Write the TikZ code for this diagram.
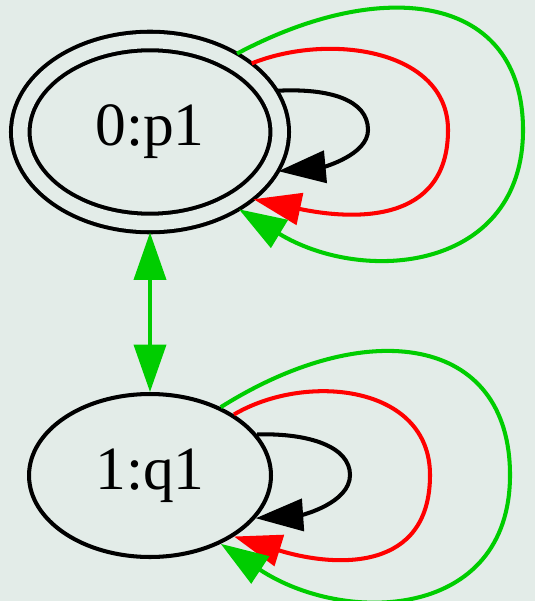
\documentclass[tikz,border=0pt]{standalone}
\usepackage{fontspec}
\setmainfont{Liberation Serif}
\usetikzlibrary{arrows.meta,shapes.geometric}
\definecolor{bgc}{RGB}{227,236,232}
\definecolor{grn}{RGB}{0,205,0}
\begin{document}
\begin{tikzpicture}
  [x=0.02cm,y=-0.02cm,line width=2.3pt,>={Triangle[length=0.95cm,width=0.64cm]},
   every node/.style={ellipse,draw,inner sep=0pt,font=\fontsize{35}{40}\selectfont},
   acc/.style={double=bgc,double distance=0.29cm,outer sep=0.19cm}]
  \path[fill=bgc,use as bounding box] (0,0) rectangle (535,601);
  \node[acc,minimum width=5.19cm,minimum height=3.64cm] (p1) at (150,132) {0:p1};
  \node[minimum width=4.84cm,minimum height=3.26cm] (q1) at (150,475.5) {1:q1};

\path [<->,draw,grn] (p1) -- (q1);
% loops on 0:p1
\path [->,draw] (p1.18) .. controls (330,88) and (368,100) .. (368,130)
  .. controls (368,155) and (323,167) .. (p1.-17);
\path [->,draw,red] (p1.34) .. controls (330,32) and (448,50) .. (448,130)
  .. controls (448,225) and (352,220) .. (p1.-33);
\path [->,draw,grn] (p1.42) .. controls (385,-25) and (523,-5) .. (523,130)
  .. controls (523,270) and (365,286) .. (p1.-41);
% loops on 1:q1
\path [->,draw] (q1.21) .. controls (310,433) and (350,447) .. (350,475)
  .. controls (350,503) and (302,515) .. (q1.-22);
\path [->,draw,red] (q1.36) .. controls (306,372) and (430,385) .. (430,475)
  .. controls (430,572) and (336,568) .. (q1.-36);
\path [->,draw,grn] (q1.44) .. controls (367,315) and (510,335) .. (510,475)
  .. controls (510,620) and (345,626) .. (q1.-44);
\end{tikzpicture}
\end{document}
